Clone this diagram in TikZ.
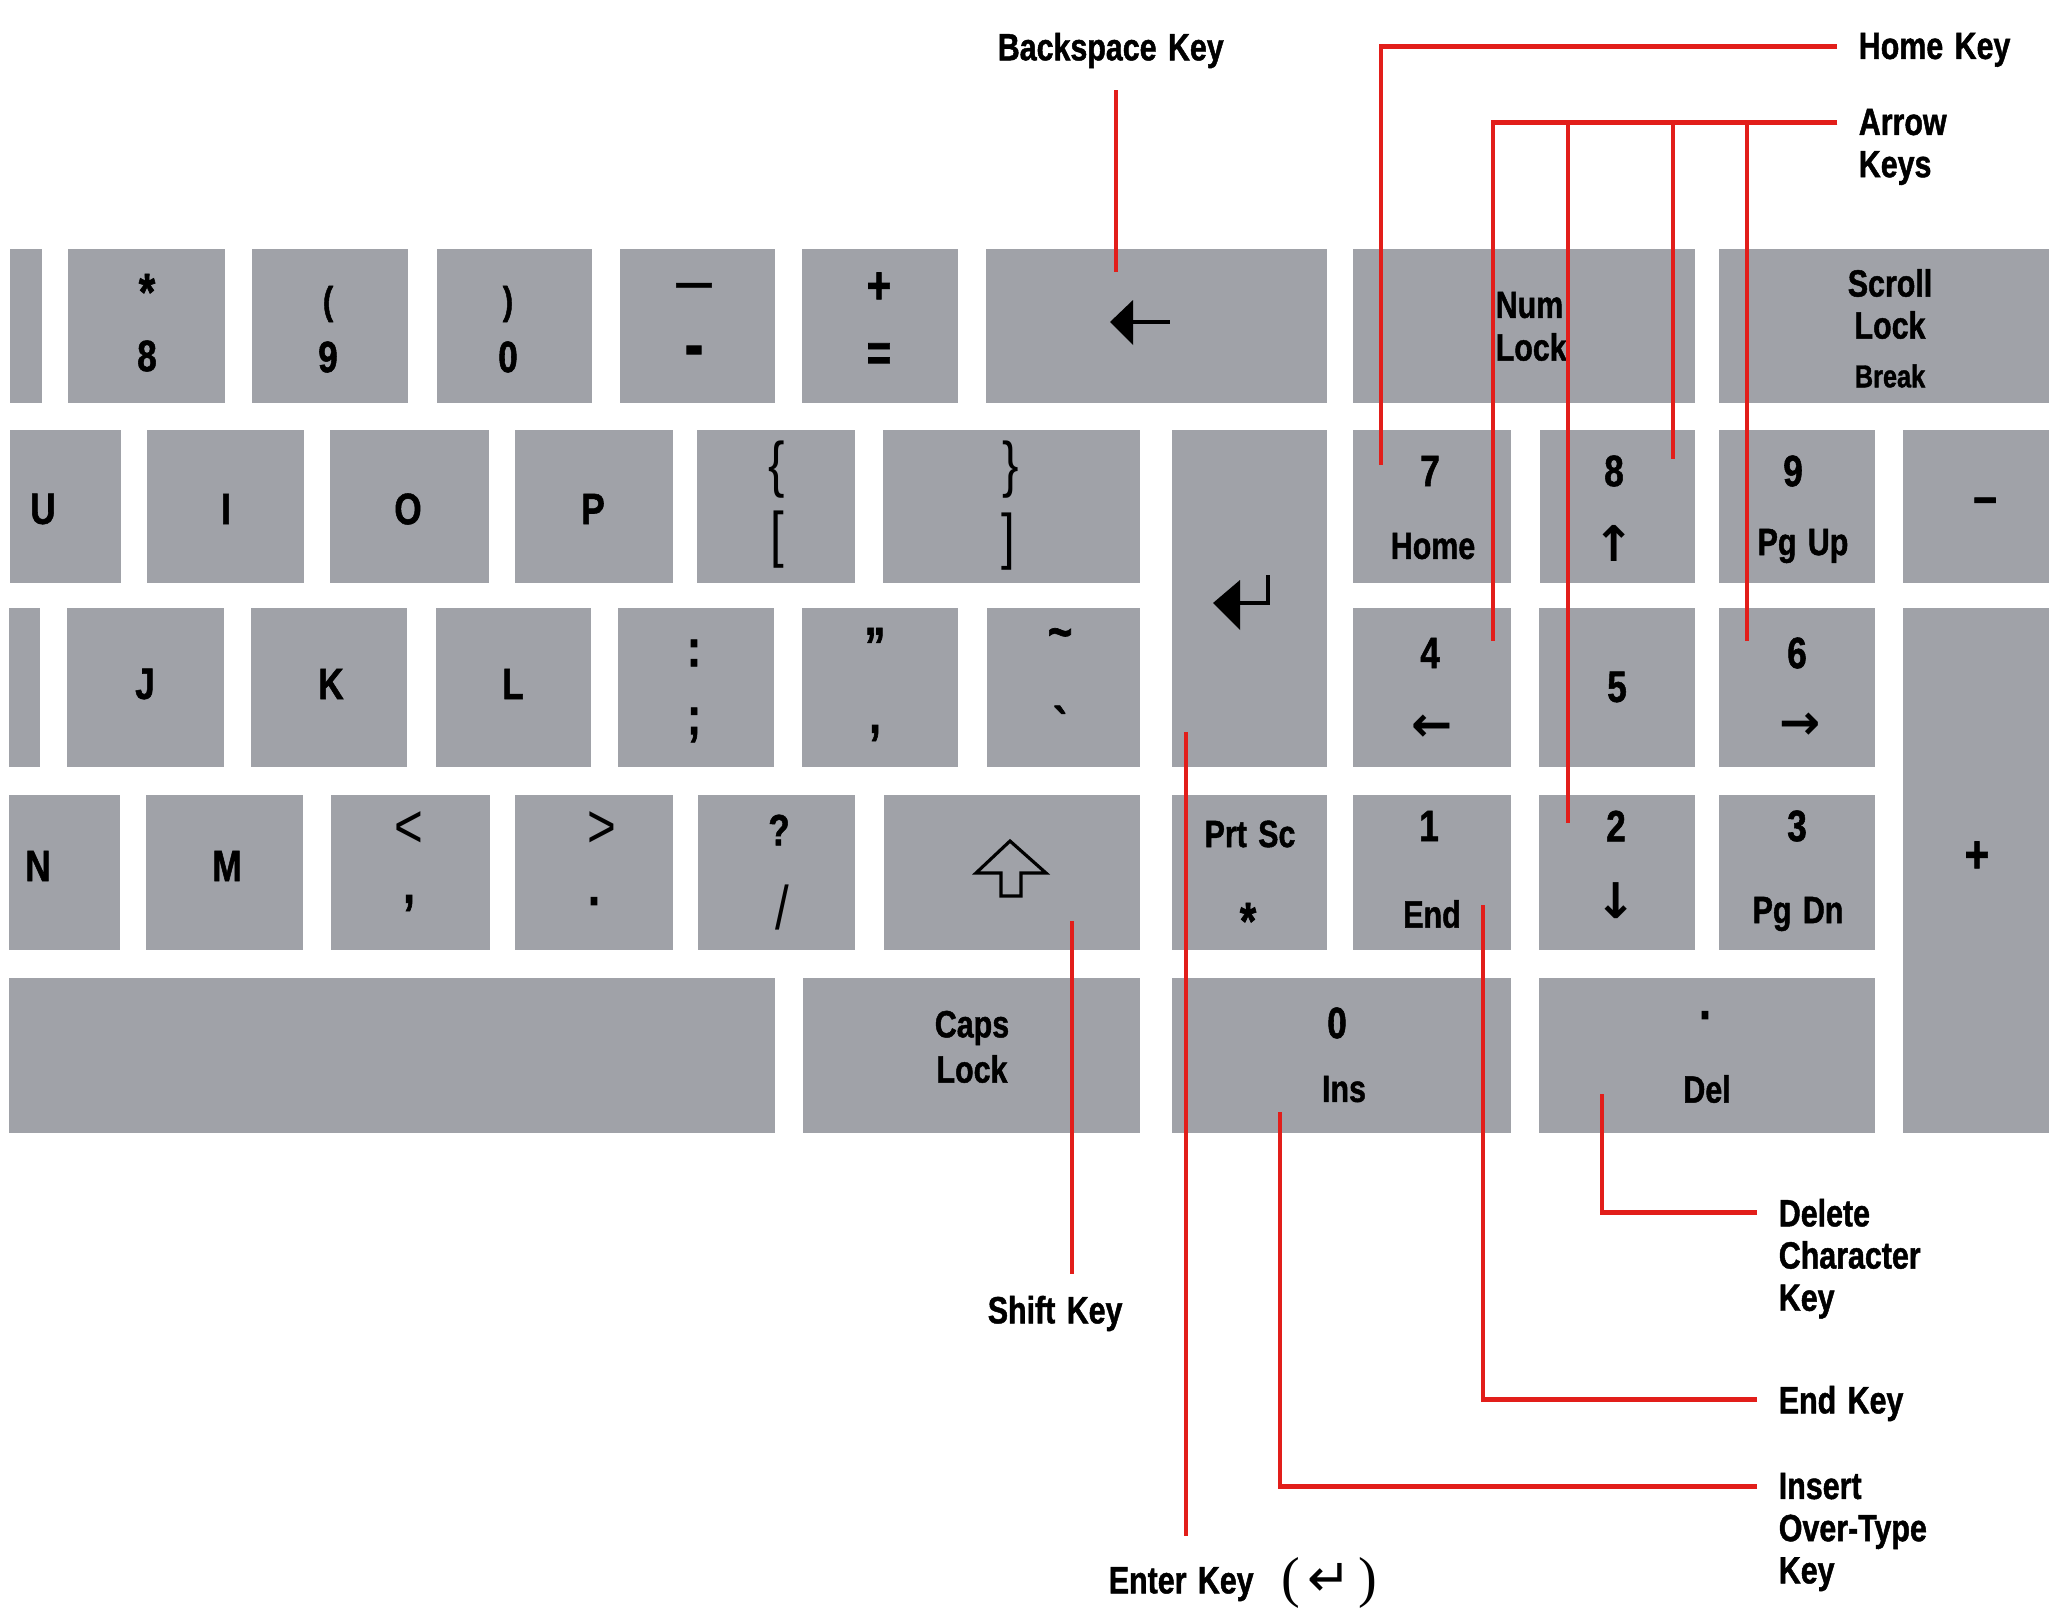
\documentclass[tikz,border=0pt]{standalone}
\usepackage{fontspec}
\setmainfont{Liberation Sans}[FakeStretch=0.8,WordSpace=1.35,BoldFeatures={FakeBold=1.2}]
\newfontfamily\parenfont{Liberation Serif}
\newfontfamily\symfont{DejaVu Sans}
\definecolor{keygray}{RGB}{160,162,168}
\definecolor{leadred}{RGB}{226,30,26}
\tikzset{
  keyfill/.style={fill=keygray},
  glyph/.style={font=\fontsize{12.5}{14}\selectfont\bfseries, inner sep=0pt},
  bigglyph/.style={font=\fontsize{15}{16}\selectfont\bfseries, inner sep=0pt},
  hugeglyph/.style={font=\fontsize{20}{20}\selectfont\bfseries, inner sep=0pt},
  smallglyph/.style={font=\fontsize{11}{12}\selectfont\bfseries, inner sep=0pt},
  fineglyph/.style={font=\fontsize{17.5}{18}\selectfont, inner sep=0pt},
  arrowglyph/.style={font=\symfont\fontsize{14}{14}\selectfont\bfseries, inner sep=0pt},
  capword/.style={font=\fontsize{10.8}{12}\selectfont\bfseries, inner sep=0pt},
  breakword/.style={font=\fontsize{9}{10}\selectfont\bfseries, inner sep=0pt},
  calllbl/.style={font=\fontsize{10.8}{12}\selectfont\bfseries, inner sep=0pt,
    outer sep=6.2pt, align=left, anchor=north west},
  leadln/.style={draw=leadred, line width=1.3pt},
  symln/.style={line width=1pt},
}

\begin{document}
\begin{tikzpicture}[x=0.01cm, y=-0.01cm]
  \fill[white] (0,0) rectangle (2049,1609);
  \useasboundingbox (0,0) rectangle (2049,1609);
  % key caps, row by row
  \foreach \ya/\yb/\cols in {
      249/403/{9.6/41.5,68/225,252/408,437/592,620/775,802/958,986/1327,1353/1695,1719/2049},
      430/583/{9.6/121,147/304,330/489,515/673,697/855,883/1140,1353/1511,1540/1695,1719/1875,1903/2049},
      608/767/{9/40,67/224,251/407,436/591,618/774,802/958,987/1140,1353/1511,1539/1695,1719/1875},
      795/950/{9/120,146/303,331/490,515/673,698/855,884/1140,1172/1327,1353/1511,1539/1695,1719/1875},
      978/1133/{9/775,803/1140,1172/1511,1539/1875}}
    \foreach \xa/\xb in \cols
      \fill[keyfill] (\xa,\ya) rectangle (\xb,\yb);
  \fill[keyfill] (1172,430) rectangle (1327,767);
  \fill[keyfill] (1903,608) rectangle (2049,1133);
  % legends on the keys
  \foreach \px/\py/\sty/\txt [count=\n] in {
      147/292/bigglyph/*, 147/356/glyph/8, 328/304/smallglyph/(, 328/357/glyph/9,
      508/304/smallglyph/), 508/357/glyph/0, 694/290/glyph/—, 694/357/hugeglyph/-,
      879/288/bigglyph/+, 879/357/bigglyph/=,
      1890/283/capword/Scroll, 1890/325/capword/Lock, 1890/376/breakword/Break,
      43/509/glyph/U, 226/509/glyph/I, 408/509/glyph/O, 593/509/glyph/P,
      777/470/fineglyph/\{, 777/540/fineglyph/[, 1011/470/fineglyph/\}, 1008/542/fineglyph/],
      1430/471/glyph/7, 1433/546/capword/Home, 1614/471/glyph/8, 1614/543/arrowglyph/↑,
      1793/471/glyph/9, 1803/546/capword/Pg Up, 1985/506/bigglyph/–,
      145/684/glyph/J, 331/684/glyph/K, 513/684/glyph/L,
      694/653/bigglyph/:, 694/725/bigglyph/;, 875/646/bigglyph/”, 875/733/bigglyph/{,},
      1060/639/bigglyph/\textasciitilde, 1062/725/bigglyph/\textasciigrave,
      1430/653/glyph/4, 1432/728/arrowglyph/←, 1617/687/glyph/5, 1797/653/glyph/6,
      1800/726/arrowglyph/→, 1977/857/bigglyph/+,
      38/866/glyph/N, 227/866/glyph/M,
      409/830/fineglyph/<, 409/903/bigglyph/{,}, 602/830/fineglyph/>, 594/901/bigglyph/.,
      779/830/glyph/?, 782/907/fineglyph/{/},
      1250/834/capword/Prt Sc, 1248/921/bigglyph/*,
      1429/826/glyph/1, 1432/914/capword/End, 1616/826/glyph/2, 1616/901/arrowglyph/↓,
      1797/826/glyph/3, 1798/914/capword/Pg Dn,
      972/1028/capword/Caps, 972/1069/capword/Lock,
      1337/1023/glyph/0, 1344/1089/capword/Ins, 1705/1015/bigglyph/., 1707/1089/capword/Del}
    \node[\sty] (g\n) at (\px,\py) {\txt};
  \node[capword, anchor=west] (numtxt) at (1495,305) {Num};
  \node[capword, anchor=west] (numlock) at (1495,347) {Lock};
  % backspace arrow
  \fill (1110,322) -- (1133,300) -- (1133,345) -- cycle;
  \draw[line width=0.9pt] (1131,322) -- (1170,322);
  % enter symbol
  \fill (1213,603) -- (1240,580) -- (1240,630) -- cycle;
  \draw[symln] (1238,603) -- (1268,603) -- (1268,575);
  % shift arrow
  \draw[line width=0.9pt] (1010,841) -- (1046,873) -- (1021,873) -- (1021,896)
    -- (1001,896) -- (1001,873) -- (976,873) -- cycle;
  % callout labels
  \node[calllbl] (bslbl) at (976,11) {Backspace Key};
  \node[calllbl] (homelbl) at (1837,11) {Home Key};
  \node[calllbl] (arrowlbl) at (1837,87) {Arrow\\Keys};
  \node[calllbl] (dellbl) at (1757,1177) {Delete\\Character\\Key};
  \node[calllbl] (endlbl) at (1757,1364) {End Key};
  \node[calllbl] (inslbl) at (1757,1451) {Insert\\Over-Type\\Key};
  \node[calllbl] (shiftlbl) at (966,1274) {Shift Key};
  \node[calllbl] (enterlbl) at (1087,1536) {Enter Key\hspace{8pt}%
    \raisebox{-1pt}{\parenfont\mdseries\fontsize{16}{16}\selectfont(}\hspace{2pt}%
    \raisebox{-1pt}{\symfont\mdseries\fontsize{15}{15}\selectfont ↵}\hspace{2pt}%
    \raisebox{-1pt}{\parenfont\mdseries\fontsize{16}{16}\selectfont)}};
  % pointer ends on the keys
  \coordinate (bsTip) at (1116,272);
  \coordinate (home7) at (1381,465);
  \coordinate (arr4) at (1493,641);
  \coordinate (arr2) at (1568,823);
  \coordinate (arr8) at (1673,459);
  \coordinate (arr6) at (1747,641);
  \coordinate (delTip) at (1602,1094);
  \coordinate (endTip) at (1483,905);
  \coordinate (insTip) at (1280,1112);
  \coordinate (shiftTip) at (1072,921);
  \coordinate (enterTip) at (1186,732);
  % red leaders
  \draw[leadln] (bslbl.south -| bsTip) -- (bsTip);
  \draw[leadln] ([yshift=-10.1pt]homelbl.north west) -| (home7);
  \foreach \t in {arr4,arr2,arr8,arr6}
    \draw[leadln] ([yshift=-10.1pt]arrowlbl.north west) -| (\t);
  \draw[leadln] ([yshift=-10.1pt]dellbl.north west) -| (delTip);
  \draw[leadln] ([yshift=-10.1pt]endlbl.north west) -| (endTip);
  \draw[leadln] ([yshift=-10.1pt]inslbl.north west) -| (insTip);
  \draw[leadln] (shiftTip) -- (shiftTip |- shiftlbl.north);
  \draw[leadln] (enterTip) -- (enterTip |- enterlbl.north);
\end{tikzpicture}
\end{document}
